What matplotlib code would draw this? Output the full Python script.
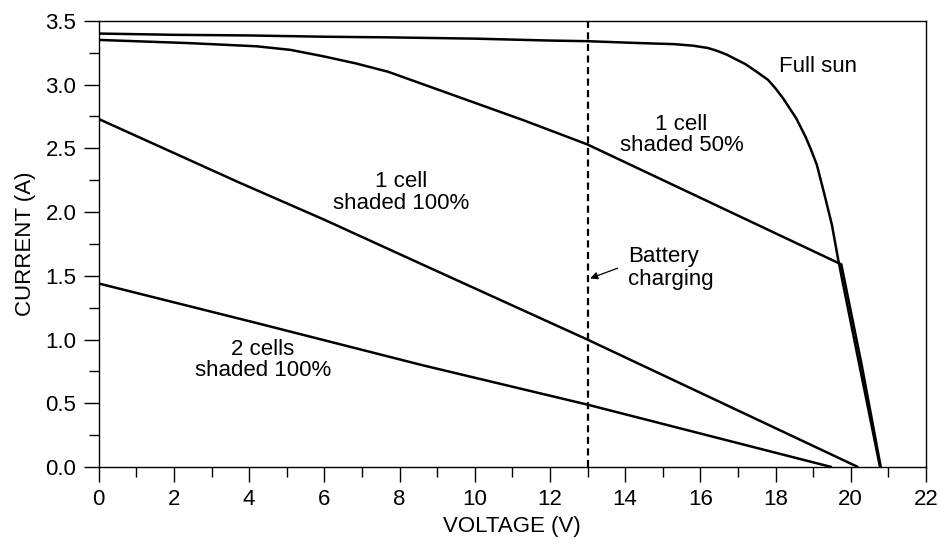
import matplotlib
matplotlib.use("Agg")
import matplotlib.pyplot as plt
from matplotlib.ticker import MultipleLocator, FormatStrFormatter

plt.rcParams['font.family'] = ['Liberation Sans', 'DejaVu Sans']

# Full sun I-V curve
full_v = [0, 2, 4, 6, 7.7, 10, 12, 13, 14.4, 15.3, 15.8, 16.2, 16.45, 16.7, 17.2, 17.5, 17.8, 18.0, 18.2, 18.55, 18.8, 18.95, 19.1, 19.3, 19.5, 19.66, 19.8, 20.3, 20.78]
full_i = [3.40, 3.39, 3.385, 3.375, 3.37, 3.36, 3.345, 3.34, 3.325, 3.317, 3.305, 3.287, 3.264, 3.235, 3.16, 3.10, 3.037, 2.97, 2.893, 2.736, 2.59, 2.485, 2.37, 2.14, 1.90, 1.64, 1.43, 0.70, 0.0]

# 1 cell shaded 50%
half_v = [0, 2.4, 4.2, 5.1, 6.0, 6.85, 7.7, 8.6, 9.5, 11.3, 13.0, 19.75, 20.3, 20.8]
half_i = [3.35, 3.325, 3.30, 3.272, 3.22, 3.165, 3.10, 3.005, 2.91, 2.72, 2.53, 1.59, 0.79, 0.0]

# 1 cell shaded 100%
one_v = [0, 3.75, 6.0, 8.6, 13.0, 20.2]
one_i = [2.73, 2.23, 1.94, 1.59, 1.0, 0.0]

# 2 cells shaded 100%
two_v = [0, 4.2, 8.6, 13.0, 19.5]
two_i = [1.44, 1.13, 0.80, 0.49, 0.0]

battery_v = 13.0

fig = plt.figure(figsize=(9.4, 5.47), dpi=100)
ax = fig.add_axes([0.105, 0.146, 0.88, 0.816])

lw = 1.8
for v, i in [(full_v, full_i), (half_v, half_i), (one_v, one_i), (two_v, two_i)]:
    ax.plot(v, i, color='black', lw=lw, solid_joinstyle='round', solid_capstyle='butt')

ax.axvline(battery_v, color='black', lw=1.6, linestyle=(0, (3.2, 2.0)))

ax.set_xlim(0, 22)
ax.set_ylim(0, 3.5)
ax.xaxis.set_major_locator(MultipleLocator(2))
ax.xaxis.set_minor_locator(MultipleLocator(1))
ax.yaxis.set_major_locator(MultipleLocator(0.5))
ax.yaxis.set_minor_locator(MultipleLocator(0.25))
ax.yaxis.set_major_formatter(FormatStrFormatter('%.1f'))

fs = 16
ax.tick_params(which='major', direction='out', length=11, width=1.0, labelsize=fs, pad=5)
ax.tick_params(which='minor', direction='out', length=7, width=1.0)
for s in ax.spines.values():
    s.set_linewidth(1.0)

ax.set_xlabel('VOLTAGE (V)', fontsize=fs, labelpad=4)
ax.set_ylabel('CURRENT (A)', fontsize=fs, labelpad=7)

ax.text(19.14, 3.14, 'Full sun', fontsize=fs, ha='center', va='center')
ax.text(15.5, 2.605, '1 cell\nshaded 50%', fontsize=fs, ha='center', va='center', linespacing=1.05)
ax.text(8.05, 2.154, '1 cell\nshaded 100%', fontsize=fs, ha='center', va='center', linespacing=1.05)
ax.text(4.37, 0.84, '2 cells\nshaded 100%', fontsize=fs, ha='center', va='center', linespacing=1.05)
ax.text(14.07, 1.56, 'Battery\ncharging', fontsize=fs, ha='left', va='center', linespacing=1.1)
ax.annotate('', xy=(13.07, 1.48), xytext=(13.8, 1.56),
            arrowprops=dict(arrowstyle='-|>', color='black', lw=0.9, mutation_scale=11,
                            shrinkA=0, shrinkB=0))

fig.savefig('out.png', dpi=100)
